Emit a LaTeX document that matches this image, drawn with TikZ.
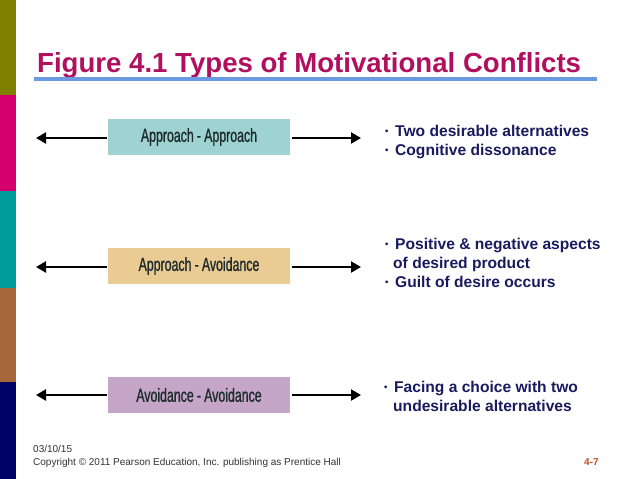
\documentclass[tikz,border=0pt]{standalone}
\usepackage{fontspec}
\setmainfont{Liberation Sans}
\newfontfamily\condfont[FakeStretch=0.65,FakeBold=0.9]{Liberation Sans}
\usetikzlibrary{arrows.meta}
\definecolor{olivebar}{HTML}{808000}
\definecolor{magbar}{HTML}{D4006E}
\definecolor{tealbar}{HTML}{009B9B}
\definecolor{brownbar}{HTML}{A5673A}
\definecolor{navybar}{HTML}{000066}
\definecolor{titlecol}{HTML}{B0105E}
\definecolor{rulecol}{HTML}{6A9BE2}
\definecolor{boxA}{HTML}{9FD3D3}
\definecolor{boxB}{HTML}{EBCB94}
\definecolor{boxC}{HTML}{C5A6C8}
\definecolor{boxtext}{HTML}{1D2B2B}
\definecolor{navytext}{HTML}{1A1A5E}
\definecolor{pagecol}{HTML}{C0502A}
\tikzset{
  conflictbox/.style={minimum width=182pt, minimum height=36pt, inner sep=0pt,
    text=boxtext, font=\condfont\fontsize{19}{20}\selectfont},
  conn/.style={line width=2.2pt, -{Triangle[length=10pt,width=11pt]}},
  bullettext/.style={anchor=north west, align=left, inner sep=0pt, text=navytext,
    font=\bfseries\fontsize{15.6}{19}\selectfont},
}
\newcommand{\bul}{\makebox[10pt][l]{\raisebox{2pt}{\fontsize{9.5}{9}\selectfont\textbullet}}}
\begin{document}
\begin{tikzpicture}[x=1pt,y=-1pt]
\useasboundingbox (0,0) rectangle (638,479);
\fill[white] (0,0) rectangle (638,479);
% side bar
\fill[olivebar] (0,0) rectangle (16,95);
\fill[magbar] (0,95) rectangle (16,191);
\fill[tealbar] (0,191) rectangle (16,288);
\fill[brownbar] (0,288) rectangle (16,382);
\fill[navybar] (0,382) rectangle (16,479);
% title
\node[anchor=base west, inner sep=0pt, text=titlecol, font=\bfseries\fontsize{27.6}{30}\selectfont] (title) at (37,72) {Figure 4.1 Types of Motivational Conflicts};
\fill[rulecol] (34,77) rectangle (597,81);
% boxes
\node[conflictbox, fill=boxA] (aa) at (199,137) {Approach\,-\,Approach};
\node[conflictbox, fill=boxB] (av) at (199,266) {Approach\,-\,Avoidance};
\node[conflictbox, fill=boxC] (vv) at (199,395) {Avoidance\,-\,Avoidance};
% arrow ends
\coordinate (aaL) at (36,138);
\coordinate (aaR) at (361,138);
\coordinate (avL) at (36,267);
\coordinate (avR) at (361,267);
\coordinate (vvL) at (36,395);
\coordinate (vvR) at (361,395);
\draw[conn] ([xshift=-1pt]aa.west |- aaL) -- (aaL);
\draw[conn] ([xshift=2pt]aa.east |- aaR) -- (aaR);
\draw[conn] ([xshift=-1pt]av.west |- avL) -- (avL);
\draw[conn] ([xshift=2pt]av.east |- avR) -- (avR);
\draw[conn] ([xshift=-1pt]vv.west |- vvL) -- (vvL);
\draw[conn] ([xshift=2pt]vv.east |- vvR) -- (vvR);
% descriptions
\node[bullettext] (t1) at (385,125) {\bul Two desirable alternatives\\ \bul Cognitive dissonance};
\node[bullettext] (t2) at (385,238) {\bul Positive \& negative aspects\\ \hspace*{8pt}of desired product\\ \bul Guilt of desire occurs};
\node[bullettext] (t3) at (384,381) {\bul Facing a choice with two\\ \hspace*{9pt}undesirable alternatives};
% footer
\node[anchor=base west, inner sep=0pt, align=left, font=\fontsize{10}{13}\selectfont, text=black!80] (foot) at (33,465) {03/10/15\\Copyright \textcopyright{} 2011 Pearson Education, Inc. publishing as Prentice Hall};
\node[anchor=base west, inner sep=0pt, text=pagecol, font=\bfseries\fontsize{10}{12}\selectfont] (pg) at (584,465) {4-7};
\end{tikzpicture}
\end{document}
